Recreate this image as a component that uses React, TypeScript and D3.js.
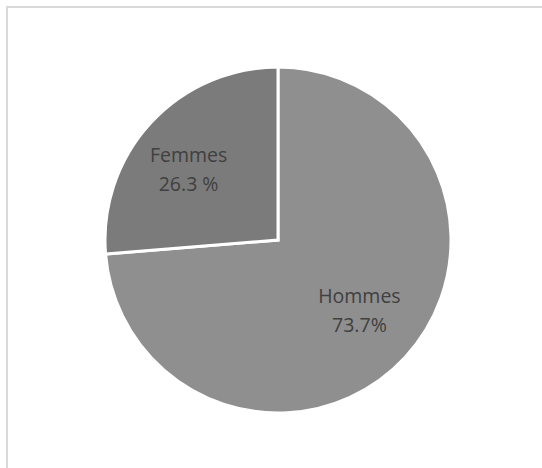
import React from "react";
import * as d3 from "d3";

const categories = ["Hommes", "Femmes"];
const values = [73.7, 26.3];
const valueLabels = ["73.7%", "26.3 %"];
const colors = ["#8f8f8f", "#7b7b7b"];

const W = 542;
const H = 468;
const cx = 278;
const cy = 240;
const R = 173;

export default function App() {
  const pie = d3.pie<number>().sort(null).value((d) => d);
  const arcs = pie(values);
  const arc = d3.arc<d3.PieArcDatum<number>>().innerRadius(0).outerRadius(R);
  const labelArc = d3
    .arc<d3.PieArcDatum<number>>()
    .innerRadius(R * 1.28)
    .outerRadius(0);
  const nudges = [
    [0, -5],
    [-8, 4],
  ];
  return (
    <svg
      width={W}
      height={H}
      style={{ position: "absolute", left: 0, top: 0, display: "block" }}
    >
      <rect x={0} y={0} width={W} height={H} fill="#ffffff" />
      <rect
        x={7}
        y={7}
        width={W + 20}
        height={H + 20}
        fill="none"
        stroke="#d9d9d9"
        strokeWidth={2}
      />
      <g transform={`translate(${cx},${cy})`}>
        {arcs.map((a, i) => (
          <path
            key={categories[i]}
            d={arc(a) || ""}
            fill={colors[i]}
            stroke="#ffffff"
            strokeWidth={3}
            strokeLinejoin="miter"
          />
        ))}
        {arcs.map((a, i) => {
          const [x, y] = labelArc.centroid(a);
          const lx = x + nudges[i][0];
          const ly = y + nudges[i][1];
          return (
            <text
              key={"l" + i}
              x={lx}
              y={ly}
              textAnchor="middle"
              fontFamily="'Open Sans', sans-serif"
              fontSize={19.5}
              fill="#404040"
            >
              <tspan x={lx} dy={-7}>
                {categories[i]}
              </tspan>
              <tspan x={lx} dy={29}>
                {valueLabels[i]}
              </tspan>
            </text>
          );
        })}
      </g>
    </svg>
  );
}
